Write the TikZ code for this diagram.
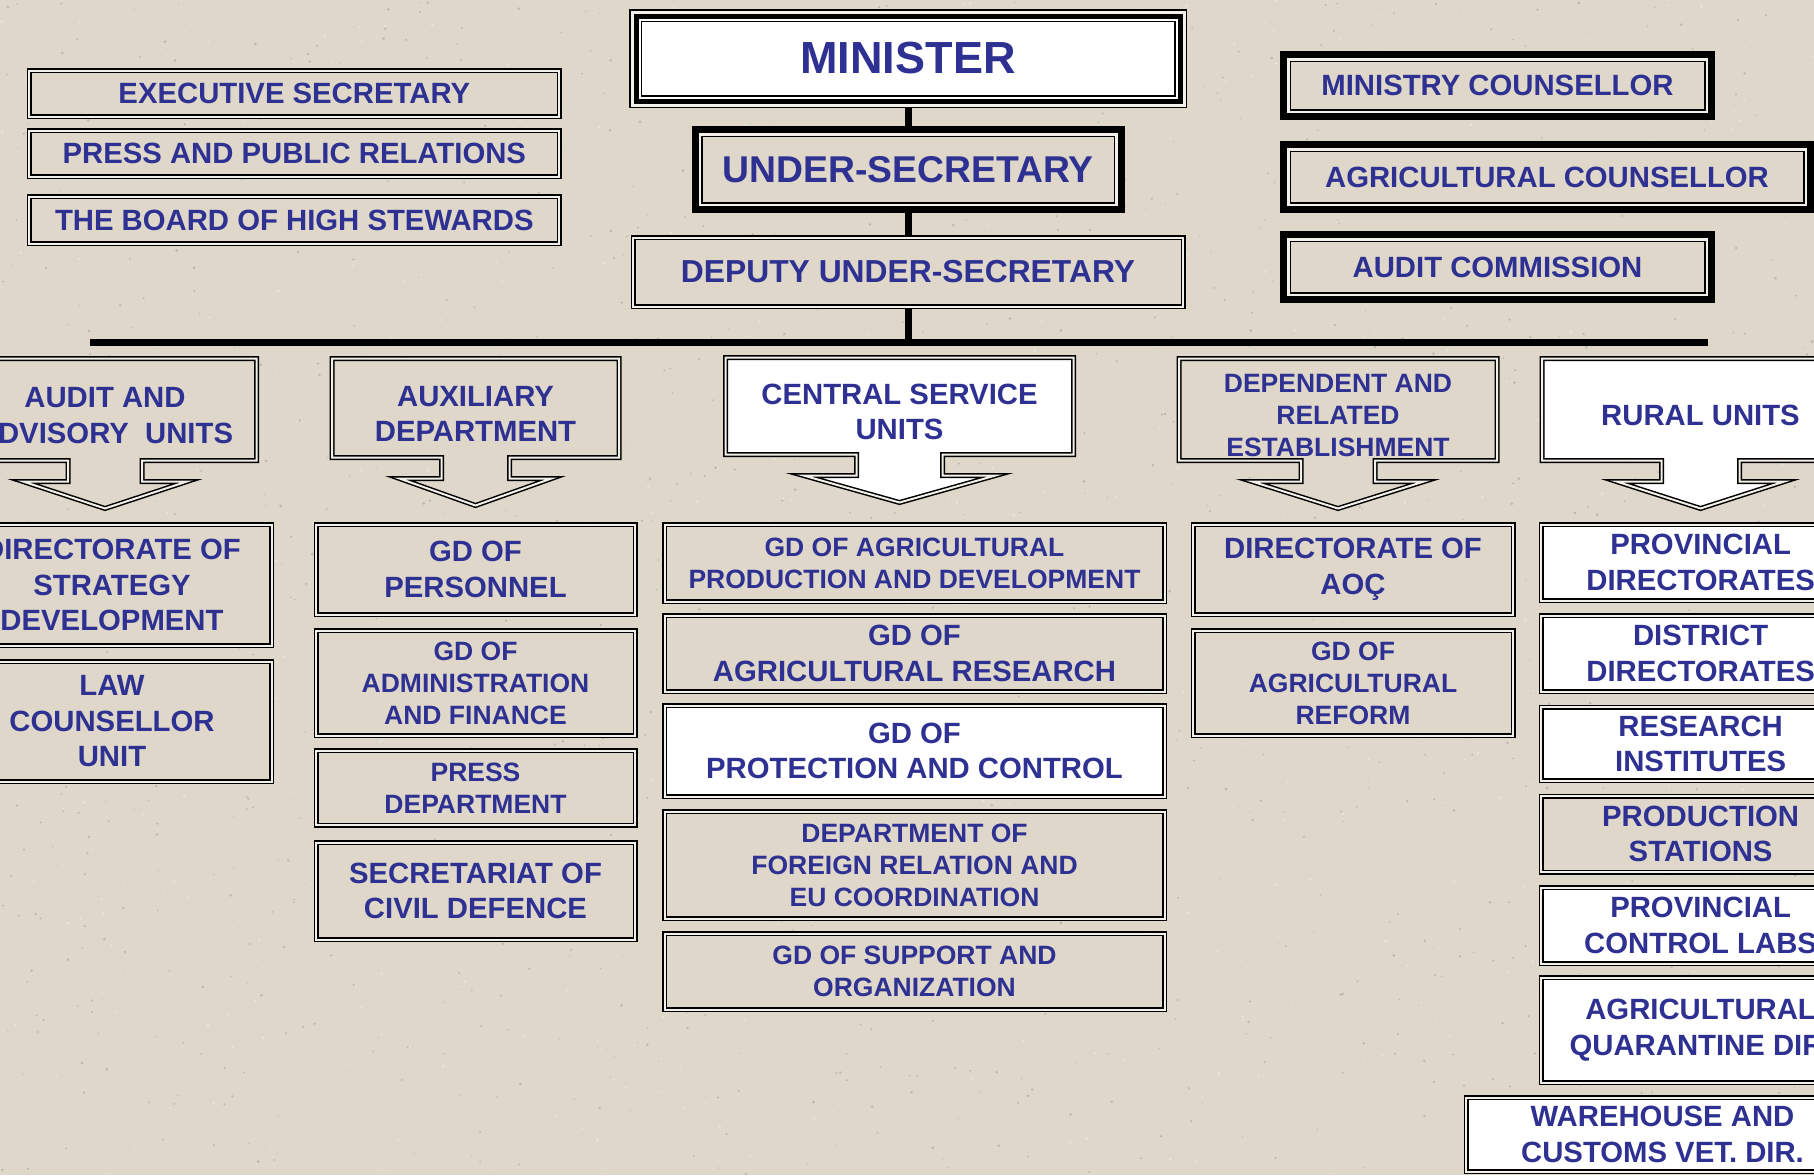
\documentclass[tikz,border=0pt]{standalone}
\usepackage{fontspec}
\setmainfont{Liberation Sans}
\pgfdeclarelayer{back}
\pgfdeclarelayer{conn}
\pgfdeclarelayer{frames}
\pgfsetlayers{back,conn,frames,main}
\definecolor{bgc}{RGB}{222,215,202}
\definecolor{gapc}{RGB}{243,240,233}
\definecolor{tc}{RGB}{46,49,146}
\tikzset{
  txt/.style={text=tc, font=\bfseries\fontsize{29.3}{35.5}\selectfont, align=center, inner sep=0pt, outer sep=0pt},
  small/.style={font=\bfseries\fontsize{26.5}{32}\selectfont},
  dbl/.style={draw=black, line width=1.5pt, double=gapc, double distance=2pt, line join=miter},
  box/.style={txt, dbl, fill=bgc},
  wbox/.style={txt, dbl, fill=white},
  thinbox/.style={txt, draw=black, line width=1.5pt, fill=bgc},
  ctext/.style={txt},
  conn/.style={draw=black, line width=7pt},
  thickfr/.style={draw=black, line width=7pt, fill=gapc},
  speck/.style={fill=black!60!bgc, opacity=0.25},
  speckl/.style={fill=white, opacity=0.35},
}
\newcommand\tframe[1]{\draw[thickfr] ([shift={(-6.75,-6.75)}]#1.north west) rectangle ([shift={(6.75,6.75)}]#1.south east);}
% callout outline: body raised 6 above the text node, then stem and arrow head
\newcommand\cpath[4]{\draw[dbl, fill=#2] ([shift={(0,-6)}]#1.north west) -- ([shift={(0,-6)}]#1.north east) -- ([shift={(0,-6)}]#1.south east)
   -- ([shift={(#3,-6)}]#1.south) -- ([shift={(#3,15)}]#1.south) -- ([shift={(#4,15)}]#1.south)
   -- ([shift={(0,42)}]#1.south) -- ([shift={(-#4,15)}]#1.south) -- ([shift={(-#3,15)}]#1.south)
   -- ([shift={(-#3,-6)}]#1.south) -- ([shift={(0,-6)}]#1.south west) -- cycle;}
\begin{document}
\begin{tikzpicture}[x=1pt,y=-1pt]
\useasboundingbox (0,0) rectangle (1814,1175);
\begin{pgfonlayer}{back}
  \fill[bgc] (0,0) rectangle (1814,1175);
  \pgfmathsetseed{11}
  \foreach \i in {1,...,1400} {\fill[speck] (rnd*1814, rnd*1175) circle (0.5+rnd);}
  \foreach \i in {1,...,900} {\fill[speckl] (rnd*1814, rnd*1175) circle (0.5+rnd);}
\end{pgfonlayer}
\clip (0,0) rectangle (1814,1175);

% top left
\node[box, minimum width=530, minimum height=46] (exec) at (294.3,93.5) {EXECUTIVE SECRETARY};
\node[box, minimum width=530, minimum height=46] (pr) at (294.3,153.5) {PRESS AND PUBLIC RELATIONS};
\node[box, minimum width=530, minimum height=47] (board) at (294.3,220) {THE BOARD OF HIGH STEWARDS};

% centre
\node[thinbox, fill=white, font=\bfseries\fontsize{45}{54}\selectfont, minimum width=533.5, minimum height=74.5] (min) at (908,58.5) {MINISTER};
\node[thinbox, font=\bfseries\fontsize{37.3}{44}\selectfont, minimum width=412.5, minimum height=66.5] (us) at (908,169.5) {UNDER-SECRETARY};
\node[box, font=\bfseries\fontsize{31.8}{38}\selectfont, minimum width=550, minimum height=69] (dus) at (908,272) {DEPUTY UNDER-SECRETARY};

% top right
\node[thinbox, minimum width=414.5, minimum height=48.5] (mc) at (1497.5,85.5) {MINISTRY COUNSELLOR};
\node[thinbox, minimum width=513.5, minimum height=51.5] (ac) at (1547,177) {AGRICULTURAL COUNSELLOR};
\node[thinbox, minimum width=414.5, minimum height=51.5] (audc) at (1497.5,267) {AUDIT COMMISSION};

% bar
\coordinate (barL) at (90,342.5);
\coordinate (barR) at (1708,342.5);
\coordinate (barC) at (908,342.5);

% callouts (text nodes set 6 below the body centre)
\node[ctext, minimum width=303, minimum height=102] (aau) at (105,415.5) {AUDIT AND\\ADVISORY\ \ UNITS};
\node[ctext, minimum width=287, minimum height=99] (aux) at (475.5,414) {AUXILIARY\\DEPARTMENT};
\node[ctext, minimum width=348, minimum height=97] (csu) at (899.5,412) {CENTRAL SERVICE\\UNITS};
\node[ctext, small, minimum width=318, minimum height=102] (dep) at (1338,415.5) {DEPENDENT AND\\RELATED\\ESTABLISHMENT};
\node[ctext, minimum width=317, minimum height=102] (rur) at (1700.5,415.5) {RURAL UNITS};

% column 1
\node[box, minimum width=319, minimum height=121] (strat) at (112,585) {DIRECTORATE OF\\STRATEGY\\DEVELOPMENT};
\node[box, minimum width=319, minimum height=120] (law) at (112,721.5) {LAW\\COUNSELLOR\\UNIT};
% column 2
\node[box, minimum width=319, minimum height=90] (pers) at (475.5,569.5) {GD OF\\PERSONNEL};
\node[box, small, minimum width=319, minimum height=105] (admin) at (475.5,683) {GD OF\\ADMINISTRATION\\AND FINANCE};
\node[box, small, minimum width=319, minimum height=74.5] (pressd) at (475.5,788) {PRESS\\DEPARTMENT};
\node[box, minimum width=319, minimum height=97] (civil) at (475.5,891) {SECRETARIAT OF\\CIVIL DEFENCE};
% column 3
\node[box, small, minimum width=500, minimum height=77] (prod) at (914.5,563) {GD OF AGRICULTURAL\\PRODUCTION AND DEVELOPMENT};
\node[box, minimum width=500, minimum height=76] (research) at (914.5,653.5) {GD OF\\AGRICULTURAL RESEARCH};
\node[wbox, minimum width=500, minimum height=91] (protect) at (914.5,751) {GD OF\\PROTECTION AND CONTROL};
\node[box, small, minimum width=500, minimum height=107] (foreign) at (914.5,865) {DEPARTMENT OF\\FOREIGN RELATION AND\\EU COORDINATION};
\node[box, small, minimum width=500, minimum height=76] (support) at (914.5,971.5) {GD OF SUPPORT AND\\ORGANIZATION};
% column 4
\node[box, minimum width=320, minimum height=90] (aoc) at (1353,569.5) {DIRECTORATE OF\\AOÇ};
\node[box, small, minimum width=320, minimum height=105] (reform) at (1353,683) {GD OF\\AGRICULTURAL\\REFORM};
% column 5
\node[wbox, minimum width=319, minimum height=76] (provd) at (1700.6,562.5) {PROVINCIAL\\DIRECTORATES};
\node[wbox, minimum width=319, minimum height=76] (distd) at (1700.6,653.5) {DISTRICT\\DIRECTORATES};
\node[wbox, minimum width=319, minimum height=73.5] (resinst) at (1700.6,743.75) {RESEARCH\\INSTITUTES};
\node[box, minimum width=319, minimum height=76] (prodst) at (1700.6,834) {PRODUCTION\\STATIONS};
\node[wbox, minimum width=319, minimum height=76] (labs) at (1700.6,925.5) {PROVINCIAL\\CONTROL LABS};
\node[wbox, minimum width=319, minimum height=105] (quar) at (1700.6,1030) {AGRICULTURAL\\QUARANTINE DIR.};
\node[wbox, minimum width=393, minimum height=74] (ware) at (1662.5,1134.5) {WAREHOUSE AND\\CUSTOMS VET. DIR.};

% frames under the nodes
\begin{pgfonlayer}{frames}
\begin{scope}
\clip (0,0) rectangle (1814,1175);
\draw[line width=1.5pt, fill=gapc] ([shift={(-11.5,-11.5)}]min.north west) rectangle ([shift={(11.5,11.5)}]min.south east);
\draw[line width=5pt, fill=white] ([shift={(-5.25,-5.25)}]min.north west) rectangle ([shift={(5.25,5.25)}]min.south east);
\tframe{us}
\tframe{mc}
\tframe{ac}
\tframe{audc}
\cpath{aau}{bgc}{37}{82}
\cpath{aux}{bgc}{34}{76}
\cpath{csu}{white}{43}{96}
\cpath{dep}{bgc}{37}{86}
\cpath{rur}{white}{39}{84}
\end{scope}
\end{pgfonlayer}

% connectors
\begin{pgfonlayer}{conn}
\draw[conn] (min.south) -- (us.north);
\draw[conn] (us.south) -- (dus.north);
\draw[conn] (dus.south) -- (dus.south |- barC);
\draw[conn] (barL) -- (barR);
\end{pgfonlayer}
\end{tikzpicture}
\end{document}
